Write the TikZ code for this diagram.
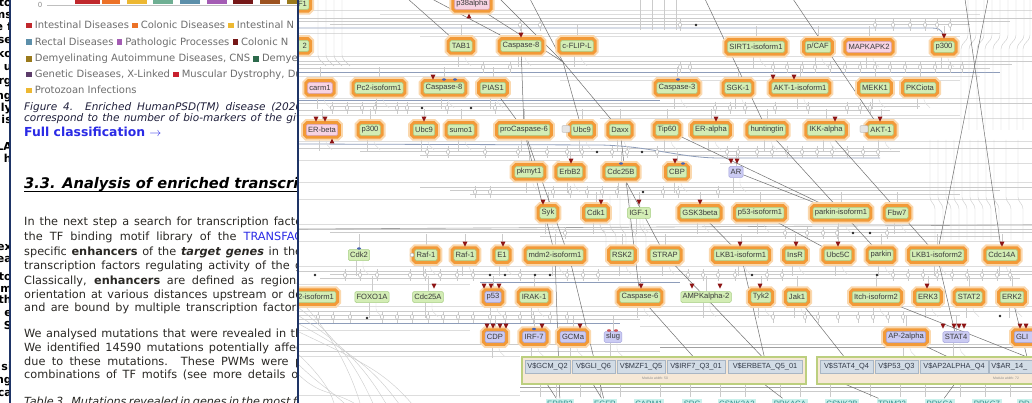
\documentclass[tikz,border=0pt]{standalone}
\usepackage{fontspec}
\setmainfont{DejaVu Sans}
\newfontfamily\netfont{Liberation Sans}
\usetikzlibrary{calc}
\pgfdeclarelayer{wires}
\pgfdeclarelayer{front}
\pgfsetlayers{wires,main,front}

% page colours
\definecolor{navyline}{HTML}{1E3466}
\definecolor{legtxt}{HTML}{6E6E6E}
\definecolor{bodytxt}{HTML}{2A2824}
\definecolor{capt}{HTML}{20203C}
\definecolor{linkblue}{HTML}{2A2AE6}
\definecolor{cRed}{HTML}{C0282C}
\definecolor{cOrange}{HTML}{EC7228}
\definecolor{cYellow}{HTML}{EDB832}
\definecolor{cTeal}{HTML}{6FAF93}
\definecolor{cSteel}{HTML}{5C8FAA}
\definecolor{cPurple}{HTML}{A45CB4}
\definecolor{cDarkRed}{HTML}{761818}
\definecolor{cBrown}{HTML}{9C5220}
\definecolor{cOlive}{HTML}{9A7A1C}
\definecolor{cDkGreen}{HTML}{2C6A4C}
\definecolor{cPlum}{HTML}{5C3C6A}
\definecolor{cCrimson}{HTML}{C8202E}
% network colours
\definecolor{ngreen}{HTML}{D3EDB5}
\definecolor{ngreenb}{HTML}{A9CF86}
\definecolor{npink}{HTML}{F7D3E3}
\definecolor{npinkb}{HTML}{D9A2BF}
\definecolor{nblue}{HTML}{CBCBF3}
\definecolor{nblueb}{HTML}{A3A3DC}
\definecolor{ntext}{HTML}{3A3A3A}
\definecolor{haloglow}{HTML}{FAD8AE}
\definecolor{halomid}{HTML}{F29A38}
\definecolor{wirec}{HTML}{CBCBCB}
\definecolor{wirelight}{HTML}{DDDDDD}
\definecolor{ovalc}{HTML}{ABABAB}
\definecolor{wirebus}{HTML}{8E9DBA}
\definecolor{dwirec}{HTML}{A0A0A0}
\definecolor{dlinec}{HTML}{707070}
\definecolor{redtri}{HTML}{8E1414}
\definecolor{bluemark}{HTML}{4A64B0}
\definecolor{sitefill}{HTML}{F6E8D6}
\definecolor{siteborder}{HTML}{BCCF7E}
\definecolor{cellfill}{HTML}{D2DCE6}
\definecolor{cellborder}{HTML}{A9B6C4}
\definecolor{celltext}{HTML}{333A48}
\definecolor{genefill}{HTML}{C9F1EC}
\definecolor{genetext}{HTML}{2E8C8A}

\newcommand\fsz[1]{\fontsize{#1}{#1}\selectfont}
\newcommand\sqb[1]{\textcolor{#1}{\rule{5.8pt}{5.8pt}}\hspace{2.8pt}}
% one justified line of the report, spread over the column width
\newcommand\jline[1]{\makebox[278pt][s]{#1}}

\tikzset{
  nd/.style={rectangle, rounded corners=1.4pt, inner sep=1.8pt, minimum height=11pt,
    font=\netfont\fsz{7.6}, text=ntext, line width=0.5pt},
  gn/.style={nd, fill=ngreen, draw=ngreenb},
  pn/.style={nd, fill=npink, draw=npinkb},
  bn/.style={nd, fill=nblue, draw=nblueb},
  halo/.style={preaction={draw=haloglow, line width=10.5pt},
               preaction={draw=halomid, line width=6.5pt}},
  badge/.style={rectangle, rounded corners=1pt, fill=black!10, draw=black!40, line width=0.3pt,
    minimum width=8pt, minimum height=7pt, inner sep=0pt},
  wire/.style={draw=wirec, line width=0.4pt},
  lwire/.style={draw=wirelight, line width=0.4pt},
  bus/.style={draw=wirebus, line width=0.8pt},
  dwire/.style={draw=dwirec, line width=0.6pt},
  dl/.style={draw=dlinec, line width=0.5pt},
  oval/.style={draw=ovalc, fill=white, line width=0.4pt},
  sitebox/.style={rectangle, fill=sitefill, draw=siteborder, line width=1.6pt, inner sep=0pt},
  cell/.style={rectangle, fill=cellfill, draw=cellborder, line width=0.4pt, minimum height=13pt,
    inner sep=1pt, font=\netfont\fsz{7.4}, text=celltext},
  gene/.style={rectangle, fill=genefill, inner sep=1.6pt, minimum height=11pt,
    font=\netfont\fsz{7.8}, text=genetext},
  body/.style={anchor=base west, inner sep=0pt, text=bodytxt, font=\fsz{11.3}},
  legend/.style={anchor=base west, inner sep=0pt, text=legtxt, font=\fsz{10}},
  frag/.style={anchor=base east, inner sep=0pt, text=black, font=\bfseries\fsz{11}},
}

\begin{document}
\begin{tikzpicture}[x=1pt,y=-1pt]
\useasboundingbox (0,0) rectangle (1032,403);
\begin{pgfonlayer}{wires}
\fill[white] (0,0) rectangle (1032,403);
\end{pgfonlayer}

% ---------------- network nodes ----------------
% row 0
\node[gn,halo,anchor=east,text width=30pt,align=right] (f1) at (309,4) {F1};
\node[pn,halo] (p38) at (472,4) {p38alpha};
% row 1
\node[gn,halo,anchor=east,text width=30pt,align=right] (x2) at (309,46) {2};
\node[gn,halo] (tab1) at (461,46) {TAB1};
\node[gn,halo] (c8a) at (521,46) {Caspase-8};
\node[gn,halo] (cflip) at (577,46) {c-FLIP-L};
\node[gn,halo] (sirt) at (756,47) {SIRT1-isoform1};
\node[gn,halo] (pcaf) at (818,47) {p/CAF};
\node[pn,halo] (mapk) at (869,47) {MAPKAPK2};
\node[gn,halo] (p300a) at (944,47) {p300};
% row 2
\node[pn,halo] (carm) at (320,88) {carm1};
\node[gn,halo] (pc2) at (379,88) {Pc2-isoform1};
\node[gn,halo] (c8b) at (444,88) {Caspase-8};
\node[gn,halo] (pias) at (493,88) {PIAS1};
\node[gn,halo] (c3) at (677,88) {Caspase-3};
\node[gn,halo] (sgk) at (738,88) {SGK-1};
\node[gn,halo] (aktiso) at (800,88) {AKT-1-isoform1};
\node[gn,halo] (mekk) at (875,88) {MEKK1};
\node[gn,halo] (pkci) at (920,88) {PKCiota};
% row 3
\node[pn,halo] (erb) at (322,130) {ER-beta};
\node[gn,halo] (p300b) at (370,130) {p300};
\node[gn,halo] (ubc9a) at (424,130) {Ubc9};
\node[gn,halo] (sumo) at (461,130) {sumo1};
\node[gn,halo] (pc6) at (524,130) {proCaspase-6};
\node[gn,halo] (ubc9b) at (582,130) {Ubc9};
\node[gn,halo] (daxx) at (620,130) {Daxx};
\node[gn,halo] (tip) at (667,130) {Tip60};
\node[gn,halo] (era) at (711,130) {ER-alpha};
\node[gn,halo] (hunt) at (767,130) {huntingtin};
\node[gn,halo] (ikka) at (826,130) {IKK-alpha};
\node[gn,halo] (akt1) at (881,130) {AKT-1};
\node[badge] (bg1) at (566,129) {};
\node[badge] (bg2) at (864,129) {};
% row 4
\node[gn,halo] (pkm) at (529,172) {pkmyt1};
\node[gn,halo] (erbb2n) at (570,172) {ErbB2};
\node[gn,halo] (c25b) at (621,172) {Cdc25B};
\node[gn,halo] (cbp) at (677,172) {CBP};
\node[bn] (ar) at (736,172) {AR};
% row 5
\node[gn,halo] (syk) at (548,213) {Syk};
\node[gn,halo] (cdk1) at (596,213) {Cdk1};
\node[gn] (igf) at (639,213) {IGF-1};
\node[gn,halo] (gsk) at (700,213) {GSK3beta};
\node[gn,halo] (p53iso) at (760,213) {p53-isoform1};
\node[gn,halo] (parkiso) at (841,213) {parkin-isoform1};
\node[gn,halo] (fbw) at (897,213) {Fbw7};
% row 6
\node[gn] (cdk2) at (359,255) {Cdk2};
\node[gn,halo] (raf1a) at (426,255) {Raf-1};
\node[gn,halo] (raf1b) at (465,255) {Raf-1};
\node[gn,halo] (e1) at (502,255) {E1};
\node[gn,halo] (mdm2) at (555,255) {mdm2-isoform1};
\node[gn,halo] (rsk) at (622,255) {RSK2};
\node[gn,halo] (strap) at (665,255) {STRAP};
\node[gn,halo] (lkb1) at (741,255) {LKB1-isoform1};
\node[gn,halo] (insr) at (795,255) {InsR};
\node[gn,halo] (ubc5) at (838,255) {Ubc5C};
\node[gn,halo] (parkin) at (881,255) {parkin};
\node[gn,halo] (lkb2) at (937,255) {LKB1-isoform2};
\node[gn,halo] (cdc14) at (1002,255) {Cdc14A};
\draw[fill=white, draw=black!40, line width=0.3pt] (412,255) circle (2);
% row 7
\node[gn,halo,anchor=east,text width=46pt,align=right] (iso1) at (336,297) {2-isoform1};
\node[gn] (foxo) at (372,297) {FOXO1A};
\node[gn] (c25a) at (428,297) {Cdc25A};
\node[bn,halo] (p53) at (493,297) {p53};
\node[gn,halo] (irak) at (534,297) {IRAK-1};
\node[gn,halo] (csp6) at (640,297) {Caspase-6};
\node[gn] (ampk) at (706,297) {AMPKalpha-2};
\node[gn,halo] (tyk) at (761,297) {Tyk2};
\node[gn,halo] (jak) at (797,297) {Jak1};
\node[gn,halo] (itch) at (876,297) {Itch-isoform2};
\node[gn,halo] (erk3) at (928,297) {ERK3};
\node[gn,halo] (stat2) at (969,297) {STAT2};
\node[gn,halo] (erk2) at (1012,297) {ERK2};
% row 8
\node[bn,halo] (cdp) at (495,337) {CDP};
\node[bn,halo] (irf7) at (534,337) {IRF-7};
\node[bn,halo] (gcma) at (573,337) {GCMa};
\node[bn] (slug) at (613,337) {slug};
\node[bn,halo] (ap2) at (906,337) {AP-2alpha};
\node[bn] (stat4) at (956,337) {STAT4};
\node[bn,halo,anchor=west,text width=26pt,align=left] (gli) at (1014,337) {GLI};

% ---------------- site modules ----------------
\node[sitebox, minimum width=284pt, minimum height=27pt] (m1) at (664,370.5) {};
\node[sitebox, minimum width=224pt, minimum height=27pt] (m2) at (929,370.5) {};
\node[cell, minimum width=45pt] (s1) at (547.5,366.5) {V\$GCM\_Q2};
\node[cell, minimum width=43pt] (s2) at (593.5,366.5) {V\$GLI\_Q6};
\node[cell, minimum width=48pt] (s3) at (641,366.5) {V\$MZF1\_Q5};
\node[cell, minimum width=58pt] (s4) at (696,366.5) {V\$IRF7\_Q3\_01};
\node[cell, minimum width=74pt] (s5) at (765,366.5) {V\$ERBETA\_Q5\_01};
\node[cell, minimum width=53pt] (s6) at (846.5,366.5) {V\$STAT4\_Q4};
\node[cell, minimum width=43pt] (s7) at (896.5,366.5) {V\$P53\_Q3};
\node[cell, minimum width=68pt] (s8) at (954,366.5) {V\$AP2ALPHA\_Q4};
\node[cell, anchor=west, text width=56pt, align=left] (s9) at (989,366.5) {\,V\$AR\_14\_};
\node[font=\netfont\fsz{3.4}, text=black!45, inner sep=0pt] (cap1) at (655,378.5) {Module width: 50};
\node[font=\netfont\fsz{3.4}, text=black!45, inner sep=0pt] (cap2) at (1006,378.5) {Module width: 72};

% ---------------- target genes ----------------
\node[gene] (g1) at (560,404) {ERBB2};
\node[gene] (g2) at (605,404) {EGFR};
\node[gene] (g3) at (649,404) {CARM1};
\node[gene] (g4) at (692,404) {SRC};
\node[gene] (g5) at (737,404) {CSNK2A2};
\node[gene] (g6) at (790,404) {PRKACA};
\node[gene] (g7) at (842,404) {CSNK2B};
\node[gene] (g8) at (892,404) {TRIM22};
\node[gene] (g9) at (940,404) {PRKCA};
\node[gene] (g10) at (987,404) {PRKCZ};
\node[gene, anchor=west, text width=30pt, align=left] (g11) at (1017,404) {PD};

% ---------------- arrowheads and marks ----------------
\foreach \x/\y in {521/46, 944/47, 433/88, 773/88, 794/88, 316/130, 325/130, 424/130, 716/130,
  835/130, 880/130, 571/172, 675/172, 731/172, 737/172, 543/213, 601/213, 639/213, 700/213,
  465/255, 503/255, 740/255, 796/255, 838/255, 1002/255, 434/297, 484/297, 491/297, 499/297,
  641/297, 692/297, 720/297, 760/297, 927/297, 487/337, 493/337, 500/337, 506/337, 542/337,
  580/337, 943/337, 954/337, 959/337, 964/337, 1020/337, 1026/337}
  \fill[redtri] (\x-2.4,\y-13.3) -- (\x+2.4,\y-13.3) -- (\x,\y-8.3) -- cycle;
\fill[redtri] (469-2.4,18.5) -- (469+2.4,18.5) -- (469,13.5) -- cycle;
\fill[redtri] (332-2.4,143.5) -- (332+2.4,143.5) -- (332,138.5) -- cycle;
\foreach \x/\y in {444/79.5, 455/79.5, 678/79.5, 621/163.5, 683/163.5, 359/248.5, 534/329}
  \fill[bluemark] (\x,\y) ellipse (2 and 1.2);
\foreach \x in {609,616} \fill[cRed!80] (\x,330.5) ellipse (2 and 1.3);

% ---------------- wiring behind the nodes ----------------
\begin{pgfonlayer}{wires}
% faint background strands
\foreach \y/\a/\b in {10/299/1032, 14/380/980, 33/299/1000, 36/420/960, 56/299/1032, 76/299/980,
  80/560/960, 98/299/1032, 115/299/960, 118/600/1032, 141/299/1032, 160/299/560, 163/720/1032,
  182/299/1032, 199/299/1032, 224/299/1032, 241/299/1032, 266/299/1032, 284/299/470,
  306/299/1032, 326/640/1032, 330/299/470, 356/299/520, 395/299/520}
  \draw[lwire] (\a,\y) -- (\b,\y);
% horizontal bundles
\foreach \y/\a/\b in {18/299/1032, 21/299/1010, 24/330/970,
  61/299/1032, 64/299/1012, 68/299/990,
  103/299/1032, 106/330/920, 110/299/890,
  148/299/1032, 151/360/900, 155/420/880,
  187/420/1032, 190/450/1000, 194/470/960,
  229/299/1032, 232/330/1032, 236/540/1000,
  271/299/1032, 274/330/1032, 278/320/1020,
  311/299/1032, 315/299/960, 319/299/640,
  344/299/1032, 351/299/660,
  391/520/1032}
  \draw[wire] (\a,\y) -- (\b,\y);
% highlighted buses
\draw[bus] (299,28) -- (925,28) .. controls (940,28) .. (944,36);
\draw[bus] (299,72) -- (1000,72);
\draw[bus] (299,100) -- (660,100);
\draw[bus] (299,144) -- (600,145) .. controls (650,146) and (680,158) .. (720,158) -- (880,158);
\draw[bus] (480,282) -- (680,282);
\draw[bus] (299,323) -- (620,323);
\draw[dwire] (299,229) -- (1032,225);
\draw[dwire] (660,347) -- (1032,347);
\draw[dwire] (520,387) -- (1032,387);
% drops from the nodes to the bundles
\foreach \n in {tab1,c8a,cflip,sirt,pcaf,mapk,p300a,carm,pc2,c8b,pias,c3,sgk,aktiso,mekk,pkci,
  erb,p300b,ubc9a,sumo,pc6,ubc9b,daxx,tip,era,hunt,ikka,akt1,pkm,erbb2n,c25b,cbp,ar,
  syk,cdk1,igf,gsk,p53iso,parkiso,fbw,cdk2,raf1a,raf1b,e1,mdm2,rsk,strap,lkb1,insr,ubc5,
  parkin,lkb2,cdc14,foxo,c25a,p53,irak,csp6,ampk,tyk,jak,itch,erk3,stat2,erk2,
  cdp,irf7,gcma,slug,ap2,stat4}
  {\draw[wire] (\n.north) -- ++(0,-15);
   \draw[wire] ([xshift=-3pt]\n.south) -- ++(0,15);
   \draw[lwire, rounded corners=2pt] ([xshift=4pt]\n.south) -- ++(0,8) -- ++(6,6);}
% vertical bundles
\foreach \x in {968,976,984,992,1000,1008,1016,1024,1030}
  \draw[wire, rounded corners=3pt] (\x,0) -- (\x,38) -- (\x-7,46) -- (\x-7,130);
\foreach \x in {930,938,946,954,962,970,978,986,994,1006,1018}
  \draw[wire, rounded corners=3pt] (\x,140) -- (\x,200) -- (\x+5,206) -- (\x+5,240);
\foreach \x in {318,326,334,342}
  \draw[wire, rounded corners=3pt] (\x,0) -- (\x,58) -- (\x+8,66);
\foreach \x in {600,610,620,630,640}
  \draw[wire, rounded corners=3pt] (\x,196) -- (\x,228) -- (\x+6,234) -- (\x+6,262);
\foreach \x in {640,652,664,676}
  \draw[wire] (\x,0) -- (\x,30);
\foreach \x in {540,556,580,600,620,660,690,720,745,780,800,830,870,900,925,960,985,1010}
  \draw[wire] (\x,384) -- (\x,397);
% sweeping curves at the lower left
\foreach \d in {0,8,16,24,32}
  \draw[wire] (299,300+\d) .. controls (330+\d,330+\d) and (350+\d,370) .. (360+\d*1.6,403);
\foreach \d in {0,10,20}
  \draw[wire] (299,355+\d) .. controls (320,375+\d) and (330,390) .. (334+\d,403);
% connector ovals
\foreach \x/\y in {520/25, 540/25, 680/25, 875/25, 893/25, 910/25, 925/25, 937/25, 950/25,
  483/67, 510/67, 680/67, 690/67, 773/67, 787/67, 802/67, 815/67, 830/67, 845/67, 860/67,
  875/67, 890/67, 905/67, 920/67, 935/67, 950/67, 962/67,
  332/108, 347/108, 362/108, 375/108, 397/108, 407/108, 447/108, 495/108, 715/108, 730/108,
  745/108, 775/108, 808/108, 847/108, 860/108, 870/108,
  427/152, 448/152, 485/152, 518/152, 547/152, 567/152, 582/152, 612/152, 627/152, 657/152,
  727/152, 738/152, 757/152, 772/152, 787/152, 802/152, 817/152, 832/152, 847/152, 863/152, 878/152,
  475/192, 490/192, 553/192, 570/192, 587/192, 602/192, 617/192, 663/192, 678/192, 718/192,
  565/233, 785/233, 807/233, 823/233, 837/233, 887/233,
  345/275, 360/275, 377/275, 410/275, 425/275, 440/275, 457/275, 473/275, 520/275, 567/275,
  583/275, 598/275, 688/275, 703/275, 718/275, 735/275, 767/275, 782/275, 893/275, 908/275,
  923/275, 937/275, 952/275, 967/275, 982/275, 997/275, 1010/275,
  318/317, 333/317, 350/317, 382/317, 397/317, 412/317, 428/317, 443/317, 458/317, 473/317,
  490/317, 505/317, 520/317, 533/317, 550/317, 567/317, 773/317, 805/317, 818/317, 838/317,
  858/317, 873/317, 888/317, 903/317}
  {\draw[wire] (\x,\y-6) -- (\x,\y+6);
   \draw[oval] (\x,\y) ellipse (1.5 and 2.4);}
\foreach \x/\y in {696/25, 422/108, 471/108, 597/152, 642/152, 643/192, 853/233, 870/233,
  315/275, 490/275, 505/275, 535/275, 550/275, 752/275, 877/275, 367/318, 1000/316}
  \fill[black!85] (\x,\y) circle (1.3);
% long crossing edges
\coordinate (k1) at (563,62);
\draw[dl] (408,-1) -- (tab1);
\draw[dl] (432,-1) -- (c8a);
\draw[dl] (500,-1) -- (k1) -- (daxx);
\draw[dl] (530,-1) -- (k1) -- (ubc9b);
\draw[dl] (p38) -- (k1);
\draw[dl] (c8a) -- (pc6);
\draw[dl] (pias) -- (pc6);
\draw[dl] (pc6) -- (mdm2) -- (g1);
\draw[dl] (pc6) -- (570,260) -- (g2);
\draw[dl] (daxx) -- (csp6) -- (s4.north);
\draw[dl] (c25b) -- (strap);
\draw[dl] (705,-1) -- (hunt) -- (parkin);
\draw[dl] (793,-1) -- (akt1);
\draw[dl] (tip) -- (parkiso);
\draw[dl] (ar) -- (parkiso);
\draw[dl] (ikka) -- (lkb2);
\draw[dl] (965,-1) -- (cdc14);
\draw[dl] (988,-1) -- (lkb2);
\draw[dl] (gsk) -- (lkb1);
\draw[dl] (p53iso) -- (ubc5);
\draw[dl] (lkb1) -- (s5.north);
\draw[dl] (strap) -- (s5.north);
\draw[dl] (jak) -- (s6.north);
\draw[dl] (itch) -- (1027,357);
\draw[dl] (erk2) -- (1027,357);
\draw[dl] (lkb2) -- (stat4);
\draw[dl] (ap2) -- (s8.north);
\draw[dl] (s1 |- m1.south) -- (g1);
\draw[dl] (s2 |- m1.south) -- (g2);
\draw[dl] (s5 |- m1.south) -- (g6);
\draw[dl] (s6 |- m2.south) -- (g8);
\draw[dl] (s8 |- m2.south) -- (g9);
\end{pgfonlayer}

% ---------------- report page on the left ----------------
\begin{pgfonlayer}{front}
\fill[white] (0,0) rectangle (299,403);
% edge of the neighbouring page
\begin{scope}
\clip (0,0) rectangle (9,403);
\foreach \y/\t in {7/to, 19/ms, 31/e f, 44/se, 58/ko, 71/u, 85/rg, 100/ng, 112/ly, 124/is,
  151/LA, 163/h, 251/ex, 262/ea, 280/to, 292/m, 303/th, 316/e, 329/S, 370/si, 383/ng, 396/ca}
  \node[frag] at (12,\y) {\t};
\end{scope}
\begin{scope}
\clip (10,0) rectangle (297.5,403);
% enrichment chart
\node[font=\fsz{7}, text=black!45, inner sep=0pt] (zero) at (40,5) {0};
\draw[black!25, line width=0.5pt] (47,5) -- (297,5);
\foreach \a/\b/\c in {75/100/cRed, 102/120/cOrange, 127/147/cYellow, 153/173/cTeal,
  180/200/cSteel, 207/227/cPurple, 233/253/cDarkRed, 260/280/cBrown, 287/300/cOlive}
  \fill[\c] (\a,-2) rectangle (\b,3.6);
% legend
\node[legend] at (26,28.5) {\sqb{cRed}Intestinal Diseases \sqb{cOrange}Colonic Diseases \sqb{cYellow}Intestinal N};
\node[legend] at (26,45.2) {\sqb{cSteel}Rectal Diseases \sqb{cPurple}Pathologic Processes \sqb{cDarkRed}Colonic N};
\node[legend] at (26,61.8) {\sqb{cOlive}Demyelinating Autoimmune Diseases, CNS \sqb{cDkGreen}Demyeli};
\node[legend] at (26,77.5) {\sqb{cPlum}Genetic Diseases, X-Linked \sqb{cCrimson}Muscular Dystrophy, Du};
\node[legend] at (26,93.5) {\sqb{cYellow}Protozoan Infections};
% figure caption
\node[anchor=base west, inner sep=0pt, text=capt, font=\itshape\fsz{10.5}] at (24,110.4)
  {\jline{Figure 4. Enriched HumanPSD(TM) disease (2020}};
\node[anchor=base west, inner sep=0pt, text=capt, font=\itshape\fsz{10.5}] at (24,122)
  {\jline{correspond to the number of bio-markers of the giv}};
\node[anchor=base west, inner sep=0pt, text=linkblue, font=\bfseries\fsz{12.4}] at (24,136.8)
  {Full classification \(\rightarrow\)};
% section heading
\node[anchor=base west, inner sep=0pt, text=black, font=\bfseries\itshape\fsz{14.6}] (head) at (24,188.3)
  {3.3. Analysis of enriched transcrip};
\draw[black, line width=1pt] (24,191.5) -- (297.5,191.5);
% body text, justified
\node[body] at (24,225.1) {\jline{In the next step a search for transcription facto}};
\node[body] at (24,240.8) {\jline{the TF binding motif library of the \textcolor{linkblue}{TRANSFAC}}};
\node[body] at (24,255.1) {\jline{specific \textbf{enhancers} of the \textbf{\textit{target genes}} in the}};
\node[body] at (24,269.1) {\jline{transcription factors regulating activity of the g}};
\node[body] at (24,284.1) {\jline{Classically, \textbf{enhancers} are defined as regions}};
\node[body] at (24,298.1) {\jline{orientation at various distances upstream or do}};
\node[body] at (24,311.4) {\jline{and are bound by multiple transcription factors}};
\node[body] at (24,337.4) {\jline{We analysed mutations that were revealed in th}};
\node[body] at (24,351.8) {\jline{We identified 14590 mutations potentially affec}};
\node[body] at (24,365.1) {\jline{due to these mutations. These PWMs were p}};
\node[body] at (24,378.1) {\jline{combinations of TF motifs (see more details of}};
\node[body, font=\itshape\fsz{11.2}] at (24,405.5) {\jline{Table 3. Mutations revealed in genes in the most fre}};
\end{scope}
% page borders
\draw[navyline, line width=1.8pt] (10,0) -- (10,403);
\draw[navyline, line width=2pt] (298,0) -- (298,403);
\end{pgfonlayer}
\end{tikzpicture}
\end{document}
